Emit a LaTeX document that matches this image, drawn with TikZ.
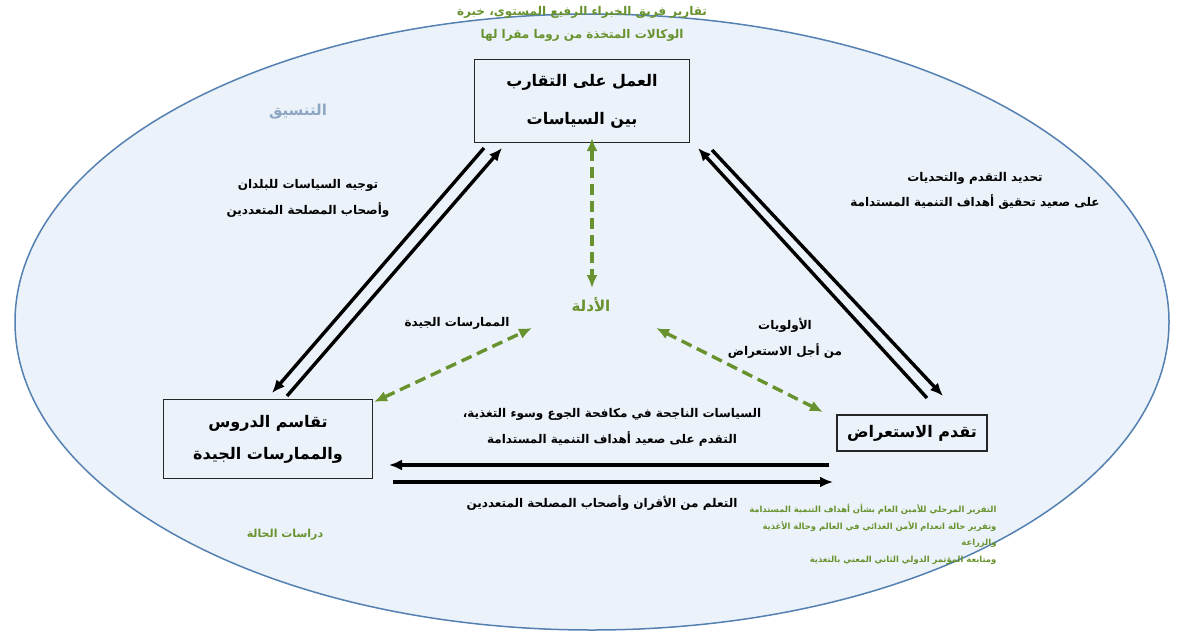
\documentclass[tikz,border=0pt]{standalone}
\usepackage{fontspec}
\newfontfamily\arabicfont[Script=Arabic]{DejaVu Sans}
\TeXXeTstate=1
\usetikzlibrary{arrows,arrows.meta,positioning}
\newcommand\rtline[1]{\beginR #1\endR}
\definecolor{ovalfill}{RGB}{235,242,249}
\definecolor{ovalline}{RGB}{84,128,178}
\definecolor{evgreen}{RGB}{104,146,46}
\definecolor{coordblue}{RGB}{140,166,196}

\begin{document}
\begin{tikzpicture}
    [x=1pt, y=-1pt, >={Latex[length=13pt,width=11pt]},
    % STYLES
    every node/.style={font=\arabicfont\bfseries},
    % The stage style is used for the three boxes of the cycle
    stage/.style={rectangle, draw=black!85, line width=1.4pt, fill=ovalfill, align=center, font=\arabicfont\bfseries\fontsize{16}{38}\selectfont},
    % The flow style is used for the black double arrows
    flow/.style={->, line width=3.4pt, black},
    % The evidence style is used for the green dashed arrows
    evidence/.style={<->, line width=3.4pt, evgreen, dash pattern=on 11pt off 6pt},
    % The label style is used for the black texts along the arrows
    label/.style={align=center, font=\arabicfont\bfseries\fontsize{12}{26}\selectfont},
    % The source style is used for the green texts
    source/.style={align=center, text=evgreen, font=\arabicfont\bfseries\fontsize{12}{23}\selectfont}]

    \useasboundingbox (0,0) rectangle (1177,634);

    % Background oval
    \draw [fill=ovalfill, draw=ovalline, line width=1.5pt] (592,322) ellipse [x radius=577, y radius=308];

    % Draw stages
    \node [stage, minimum width=215, minimum height=83] (convergence) at (582,101) {\rtline{العمل على التقارب}\\\rtline{بين السياسات}};
    \node [stage, minimum width=209, minimum height=79, font=\arabicfont\bfseries\fontsize{16}{32}\selectfont] (sharing) at (268,439) {\rtline{تقاسم الدروس}\\\rtline{والممارسات الجيدة}};
    \node [stage, minimum width=150, minimum height=36] (review) at (912,433) {\rtline{تقدم الاستعراض}};

    % Draw texts
    \node [source] (hlpe) at (582,24) {\rtline{تقارير فريق الخبراء الرفيع المستوى، خبرة}\\\rtline{الوكالات المتخذة من روما مقرا لها}};
    \node [text=coordblue, font=\arabicfont\bfseries\fontsize{15}{17}\selectfont] (coord) at (298,112) {\rtline{التنسيق}};
    \node [label] (guidance) at (308,198) {\rtline{توجيه السياسات للبلدان}\\\rtline{وأصحاب المصلحة المتعددين}};
    \node [label, font=\arabicfont\bfseries\fontsize{12}{25}\selectfont] (challenges) at (975,191) {\rtline{تحديد التقدم والتحديات}\\\rtline{على صعيد تحقيق أهداف التنمية المستدامة}};
    \node [source, font=\arabicfont\bfseries\fontsize{15}{17}\selectfont] (evidencetxt) at (591,305) {\rtline{الأدلة}};
    \node [label] (practices) at (457,323) {\rtline{الممارسات الجيدة}};
    \node [label] (priorities) at (785,338) {\rtline{الأولويات}\\\rtline{من أجل الاستعراض}};
    \node [label] (policies) at (612,427) {\rtline{السياسات الناجحة في مكافحة الجوع وسوء التغذية،}\\\rtline{التقدم على صعيد أهداف التنمية المستدامة}};
    \node [label] (peers) at (602,503) {\rtline{التعلم من الأقران وأصحاب المصلحة المتعددين}};
    \node [source, align=right, anchor=north east, font=\arabicfont\bfseries\fontsize{8.4}{16.5}\selectfont] (reports) at (1000,501) {\rtline{التقرير المرحلي للأمين العام بشأن أهداف التنمية المستدامة}\\\rtline{وتقرير حالة انعدام الأمن الغذائي في العالم وحالة الأغذية}\\\rtline{والزراعة}\\\rtline{ومتابعة المؤتمر الدولي الثاني المعني بالتغذية}};
    \node [source, font=\arabicfont\bfseries\fontsize{11}{13}\selectfont] (cases) at (285,535) {\rtline{دراسات الحالة}};

    % Arrow ends
    \coordinate (cvL1) at (484,148);
    \coordinate (shL1) at (272,393);
    \coordinate (shL2) at (287,396);
    \coordinate (cvL2) at (502,148);
    \coordinate (cvR1) at (698,148);
    \coordinate (rvR1) at (927,398);
    \coordinate (cvR2) at (712,150);
    \coordinate (rvR2) at (943,396);
    \coordinate (rvB1) at (829,465);
    \coordinate (shB1) at (389,465);
    \coordinate (shB2) at (393,482);
    \coordinate (rvB2) at (833,482);
    \coordinate (evTop) at (592,138);
    \coordinate (evMid) at (592,288);
    \coordinate (evLeft) at (532,328);
    \coordinate (evSh) at (374,402);
    \coordinate (evRight) at (656,328);
    \coordinate (evRv) at (823,412);

    % Draw the links between stages
    \draw [flow] (cvL1) -- (shL1);
    \draw [flow] (shL2) -- (cvL2);
    \draw [flow] (rvR1) -- (cvR1);
    \draw [flow] (cvR2) -- (rvR2);
    \draw [flow] (rvB1) -- (shB1);
    \draw [flow] (shB2) -- (rvB2);
    \draw [evidence] (evTop) -- (evMid);
    \draw [evidence] (evSh) -- (evLeft);
    \draw [evidence] (evRight) -- (evRv);
\end{tikzpicture}
\end{document}
